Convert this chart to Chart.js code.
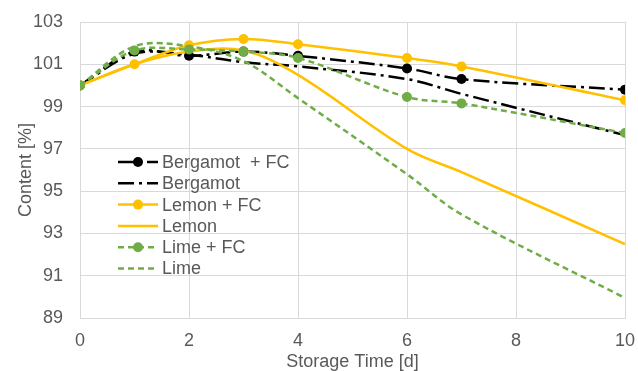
<!DOCTYPE html>
<html>
<head>
<meta charset="utf-8">
<script src="https://cdn.jsdelivr.net/npm/chart.js@4/dist/chart.umd.min.js"></script>
<style>
  html, body { margin: 0; padding: 0; background: #ffffff; }
  #wrap { width: 638px; height: 371px; }
</style>
</head>
<body>
<div id="wrap"><canvas id="c" width="638" height="371"></canvas></div>
<script>
// Storage days and content values (%) per sample
const days = [0, 1, 2, 3, 4, 6, 7, 10];
const bergamotFC = [100, 101.6, 101.4, 101.6, 101.4, 100.8, 100.3, 99.8];
const bergamot   = [100, 101.5, 101.45, 101.1, 100.9, 100.3, 99.6, 97.65];
const lemonFC    = [100, 101.0, 101.9, 102.2, 101.95, 101.3, 100.9, 99.3];
const lemon      = [100, 101.0, 101.6, 101.65, 100.5, 97.0, 95.9, 92.5];
const limeFC     = [100, 101.65, 101.7, 101.6, 101.3, 99.45, 99.15, 97.75];
const lime       = [100, 101.85, 101.85, 101.15, 99.4, 95.8, 93.9, 89.95];
const seriesNames = ['Bergamot  + FC', 'Bergamot', 'Lemon + FC', 'Lemon', 'Lime + FC', 'Lime'];
const yTicks = [89, 91, 93, 95, 97, 99, 101, 103];
const xTicks = [0, 2, 4, 6, 8, 10];

const BLACK = '#000000';
const YELLOW = '#ffc000';
const GREEN = '#70ad47';
const DASHDOT = [16, 5, 3, 5];
const DASH = [6, 4];

const styles = [
  { color: BLACK,  dash: DASHDOT, marker: true },
  { color: BLACK,  dash: DASHDOT, marker: false },
  { color: YELLOW, dash: [],      marker: true },
  { color: YELLOW, dash: [],      marker: false },
  { color: GREEN,  dash: DASH,    marker: true },
  { color: GREEN,  dash: DASH,    marker: false }
];
const values = [bergamotFC, bergamot, lemonFC, lemon, limeFC, lime];

const datasets = values.map((vals, i) => ({
  label: seriesNames[i],
  data: days.map((d, k) => ({ x: d, y: vals[k] })),
  borderColor: styles[i].color,
  backgroundColor: styles[i].color,
  borderWidth: 2.5,
  borderDash: styles[i].dash,
  pointRadius: styles[i].marker ? 5 : 0,
  pointHoverRadius: styles[i].marker ? 5 : 0,
  pointBorderWidth: 0,
  tension: 0.35,
  fill: false,
  order: values.length - i
}));

const FONT = 'Liberation Sans, Arial, sans-serif';
const TEXT = '#595959';

// Legend drawn inside the plot area
const innerLegend = {
  id: 'innerLegend',
  afterDraw(chart) {
    const ctx = chart.ctx;
    const x0 = 118, x1 = 158, tx = 162, y0 = 162, dy = 21.3;
    ctx.save();
    ctx.font = '18px ' + FONT;
    ctx.textBaseline = 'middle';
    ctx.textAlign = 'left';
    seriesNames.forEach((name, i) => {
      const y = y0 + i * dy;
      const s = styles[i];
      ctx.strokeStyle = s.color;
      ctx.lineWidth = 2.5;
      ctx.setLineDash(s.dash);
      ctx.beginPath();
      ctx.moveTo(x0, y);
      ctx.lineTo(x1, y);
      ctx.stroke();
      ctx.setLineDash([]);
      if (s.marker) {
        ctx.fillStyle = s.color;
        ctx.beginPath();
        ctx.arc((x0 + x1) / 2, y, 5, 0, Math.PI * 2);
        ctx.fill();
      }
      ctx.fillStyle = TEXT;
      ctx.fillText(name, tx, y + 1);
    });
    ctx.restore();
  }
};

new Chart(document.getElementById('c'), {
  type: 'line',
  data: { datasets },
  options: {
    responsive: false,
    animation: false,
    events: [],
    layout: { padding: { left: 0, right: 13, top: 22, bottom: 0 } },
    plugins: { legend: { display: false }, tooltip: { enabled: false } },
    scales: {
      x: {
        type: 'linear',
        min: 0, max: 10,
        afterBuildTicks: s => { s.ticks = xTicks.map(v => ({ value: v })); },
        afterFit: s => { s.height = 53; s.paddingLeft = 0; s.paddingRight = 0; },
        grid: { color: '#d9d9d9', lineWidth: 1, drawTicks: false },
        border: { color: '#d9d9d9' },
        ticks: { color: TEXT, font: { family: FONT, size: 18 }, padding: 12, maxRotation: 0 },
        title: { display: true, text: 'Storage Time [d]', color: TEXT, font: { family: FONT, size: 18 }, padding: { top: 0, bottom: -2 } }
      },
      y: {
        min: 89, max: 103,
        afterBuildTicks: s => { s.ticks = yTicks.map(v => ({ value: v })); },
        afterFit: s => { s.width = 80; s.paddingTop = 0; s.paddingBottom = 0; },
        grid: { color: '#d9d9d9', lineWidth: 1, drawTicks: false },
        border: { color: '#d9d9d9' },
        ticks: { color: TEXT, font: { family: FONT, size: 18 }, padding: 17 },
        title: { display: true, text: 'Content [%]', color: TEXT, font: { family: FONT, size: 18 }, padding: { top: 15, bottom: 0 } }
      }
    }
  },
  plugins: [innerLegend]
});
</script>
</body>
</html>
